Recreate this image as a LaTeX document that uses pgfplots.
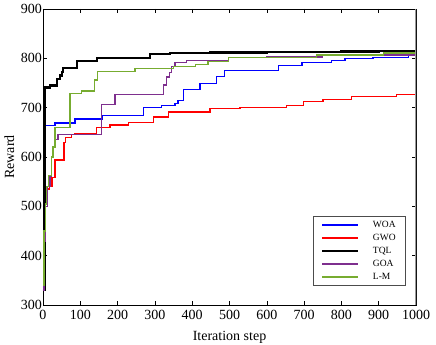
\documentclass[border=0pt]{standalone}
\usepackage{pgfplots}
\pgfplotsset{compat=1.18}
\usepackage{fontspec}
\setmainfont{Liberation Serif}
\definecolor{mblue}{RGB}{0,0,255}
\definecolor{mred}{RGB}{255,0,0}
\definecolor{mpurple}{RGB}{126,47,142}
\definecolor{mgreen}{RGB}{119,172,48}
\begin{document}
\begin{tikzpicture}
\begin{axis}[
  scale only axis,
  width=373bp, height=296bp,
  xmin=0, xmax=1000, ymin=300, ymax=900,
  xtick={0,100,...,1000}, ytick={300,400,...,900},
  tick align=inside,
  major tick length=4bp,
  tick style={black, line width=0.6bp},
  axis line style={line width=0.8bp},
  /pgf/number format/assume math mode=true,
  /pgf/number format/1000 sep={},
  ticklabel style={font=\fontsize{14bp}{16bp}\selectfont},
  yticklabel style={inner xsep=1bp},
  xticklabel style={yshift=-1.5bp},
  xlabel={Iteration step}, ylabel={Reward},
  label style={font=\fontsize{14bp}{16bp}\selectfont},
  xlabel style={yshift=-5bp},
  ylabel style={yshift=2bp},
  legend style={at={(0.973,0.064)}, anchor=south east, draw=black!70, line width=0.6bp,
    font=\fontsize{9.5bp}{11bp}\selectfont, inner xsep=8bp, inner ysep=3bp,
    row sep=1.2bp, /tikz/every odd column/.append style={column sep=12bp}},
  legend cell align=left,
  legend image code/.code={\draw[#1, line width=1.5bp] (0bp,0bp) -- (36bp,0bp);},
  const plot,
]
\addplot[mblue, line width=1.3bp] coordinates {
(0,335)(1,530)(2,600)(4,664)(32,669)(86,677)(160,684)(269,701)(318,704)(354,708)(362,715)(376,737)(421,749)(466,763)(487,776)(631,786)(694,791)(774,796)(810,799)(885,802)(979,806)(1000,806)};
\addlegendentry{WOA}
\addplot[mred, line width=1.3bp] coordinates {
(0,330)(2,430)(5,510)(10,535)(18,540)(24,559)(32,594)(56,630)(60,640)(77,645)(85,648)(144,660)(180,665)(229,670)(296,681)(336,691)(448,698)(501,699)(528,701)(653,704)(698,713)(751,717)(828,722)(948,727)(1000,727)};
\addlegendentry{GWO}
\addplot[black, line width=2.2bp] coordinates {
(0,330)(4,741)(19,745)(38,758)(46,765)(50,772)(54,780)(91,795)(144,800)(287,808)(340,810)(448,812)(600,813)(800,814)(900,815)(1000,815)};
\addlegendentry{TQL}
\addplot[mpurple, line width=1.3bp] coordinates {
(0,330)(3,430)(6,500)(12,540)(19,560)(22,600)(25,620)(30,635)(40,645)(157,707)(193,727)(323,746)(332,762)(339,771)(345,784)(354,791)(385,795)(497,801)(600,803)(750,806)(900,807)(1000,807)};
\addlegendentry{GOA}
\addplot[mgreen, line width=1.3bp] coordinates {
(0,340)(3,450)(6,505)(10,540)(15,562)(22,600)(27,620)(32,660)(72,729)(103,734)(139,756)(147,773)(247,780)(349,784)(408,788)(442,793)(497,802)(734,807)(912,811)(1000,811)};
\addlegendentry{L-M}
\draw[gray!80, line width=1.2bp] (rel axis cs:1,0) -- (rel axis cs:1,1);
\end{axis}
\pgfresetboundingbox
\path[use as bounding box] (current axis.south west) ++(-43bp,-40bp) rectangle ++(436bp,345bp);
\end{tikzpicture}
\end{document}
